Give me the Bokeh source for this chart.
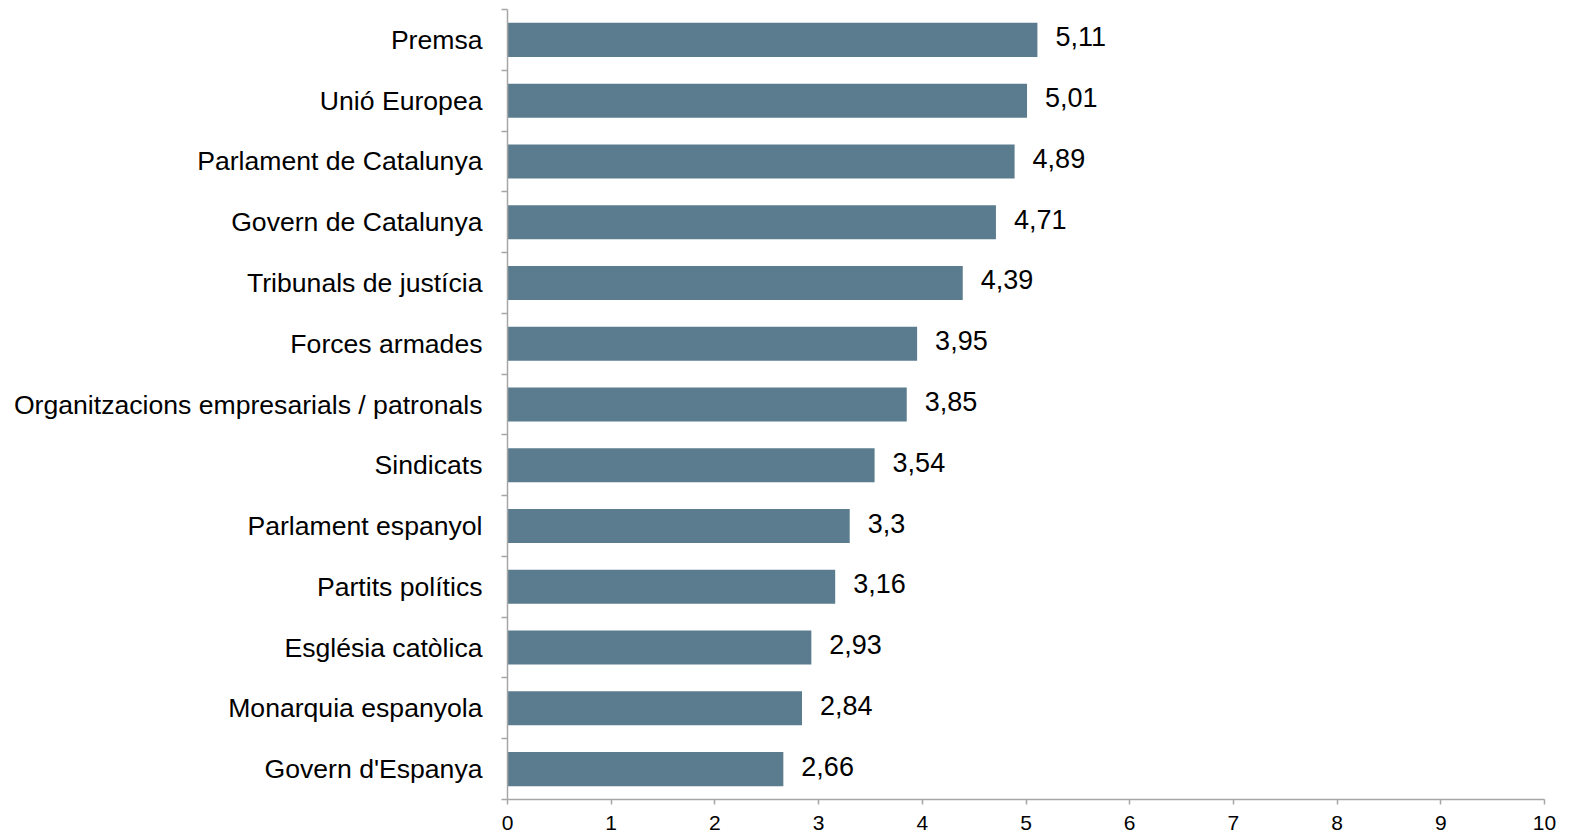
from bokeh.plotting import figure
from bokeh.models import ColumnDataSource, FixedTicker, Range1d
from bokeh.core.properties import value
from bokeh.embed import file_html
from bokeh.resources import INLINE

categories = ["Premsa", "Unió Europea", "Parlament de Catalunya", "Govern de Catalunya",
              "Tribunals de justícia", "Forces armades",
              "Organitzacions empresarials / patronals", "Sindicats",
              "Parlament espanyol", "Partits polítics", "Església catòlica",
              "Monarquia espanyola", "Govern d'Espanya"]
values = [5.11, 5.01, 4.89, 4.71, 4.39, 3.95, 3.85, 3.54, 3.3, 3.16, 2.93, 2.84, 2.66]
value_labels = ["5,11", "5,01", "4,89", "4,71", "4,39", "3,95", "3,85", "3,54",
                "3,3", "3,16", "2,93", "2,84", "2,66"]
x_ticks = [0, 1, 2, 3, 4, 5, 6, 7, 8, 9, 10]

n = len(categories)
ypos = [n - 1 - i for i in range(n)]

FONT = "Liberation Sans"
BAR = "#5b7c8e"
AXIS = "#a6a6a6"

src = ColumnDataSource(dict(y=ypos, v=values, lab=value_labels, cat=categories))

p = figure(width=1564, height=834, output_backend="svg", toolbar_location=None,
           x_range=Range1d(0, 10), y_range=Range1d(-0.5, n - 0.5),
           min_border_left=507, min_border_right=20, min_border_top=9,
           min_border_bottom=30)
p.frame_width = 1037
p.frame_height = 790
p.outline_line_color = None
p.grid.visible = False
p.background_fill_color = "white"
p.border_fill_color = "white"

p.hbar(y="y", left=0, right="v", height=0.56, source=src,
       fill_color=BAR, line_color=None)
p.text(x="v", y="y", text="lab", source=src, x_offset=18, y_offset=-3,
       text_baseline="middle", text_align="left",
       text_font=value(FONT), text_font_size="27px", text_color="#000000")

# y axis: labels at category centres, ticks at boundaries
ya = p.yaxis[0]
ya.ticker = FixedTicker(ticks=ypos, minor_ticks=[k - 0.5 for k in range(n + 1)])
ya.major_label_overrides = {int(y): c for y, c in zip(ypos, categories)}
ya.major_tick_out = 0
ya.major_tick_in = 0
ya.minor_tick_out = 6
ya.minor_tick_in = 0
ya.minor_tick_line_color = AXIS
ya.minor_tick_line_width = 1.5
ya.axis_line_color = AXIS
ya.axis_line_width = 1.5
ya.major_label_standoff = 19
ya.major_label_text_font = FONT
ya.major_label_text_font_size = "26.6px"
ya.major_label_text_color = "#000000"

xa = p.xaxis[0]
xa.ticker = FixedTicker(ticks=x_ticks, minor_ticks=[])
xa.major_tick_out = 5
xa.major_tick_in = 0
xa.major_tick_line_color = AXIS
xa.major_tick_line_width = 1.5
xa.axis_line_color = AXIS
xa.axis_line_width = 1.5
xa.major_label_standoff = 11
xa.major_label_text_font = FONT
xa.major_label_text_font_size = "21px"
xa.major_label_text_line_height = 0.7
xa.major_label_text_color = "#000000"

open("out.html", "w").write(file_html(p, INLINE))
